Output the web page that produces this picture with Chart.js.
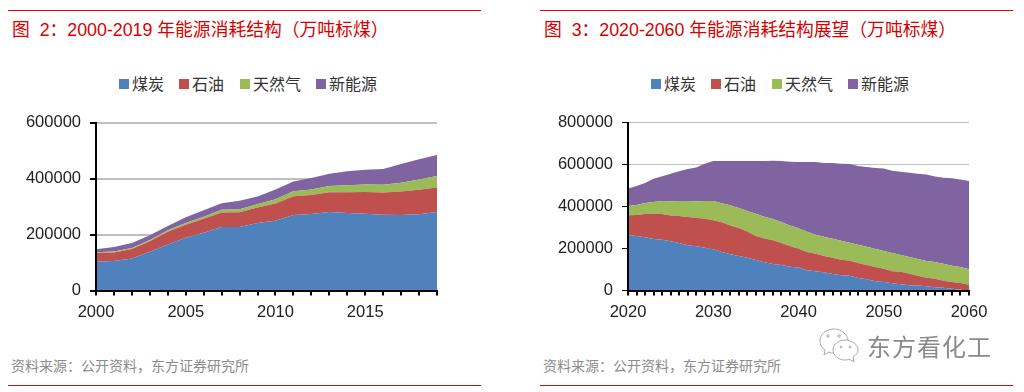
<!DOCTYPE html>
<html>
<head>
<meta charset="utf-8">
<script src="https://cdn.jsdelivr.net/npm/chart.js@4"></script>
<style>
  html, body { margin: 0; padding: 0; background: #fff; }
  body { position: relative; width: 1024px; height: 392px; overflow: hidden; font-family: "Liberation Sans", "Noto Sans CJK SC", sans-serif; }
  canvas { position: absolute; top: 100px; }
  .rule { position: absolute; height: 1px; width: 473px; }
  .top { top: 10px; background: #e00000; }
  .bottom { top: 385px; background: #b81414; }
  .title { position: absolute; top: 19px; font-size: 17.8px; line-height: 22px; color: #d80000; white-space: pre; }
  .source { position: absolute; top: 356px; font-size: 14px; line-height: 18px; color: #8c8c8c; font-family: "Noto Sans CJK SC", sans-serif; white-space: nowrap; }
  .legend { position: absolute; top: 72px; height: 22px; font-size: 16px; line-height: 22px; color: #333; font-family: "Noto Sans CJK SC", sans-serif; white-space: nowrap; }
  .legend span { position: absolute; top: 0; }
  .legend i { position: absolute; top: 7px; width: 10px; height: 10px; }
  .mark { position: absolute; left: 867px; top: 329px; font-size: 24px; line-height: 34px; letter-spacing: 1px; color: #8a8a8a; font-family: "Noto Sans CJK SC", sans-serif; white-space: nowrap; }
  svg { position: absolute; left: 818px; top: 327px; }
</style>
</head>
<body>
<div class="rule top" style="left:8px"></div>
<div class="rule top" style="left:540px"></div>
<div class="title" style="left:12px">图  2：2000-2019 年能源消耗结构（万吨标煤）</div>
<div class="title" style="left:544px">图  3：2020-2060 年能源消耗结构展望（万吨标煤）</div>

<canvas id="history" width="512" height="230" style="left:0"></canvas>
<canvas id="outlook" width="512" height="230" style="left:512px"></canvas>
<div class="legend" id="historyLegend" style="left:119px"></div>
<div class="legend" id="outlookLegend" style="left:651px"></div>

<div class="source" style="left:11px">资料来源：公开资料，东方证券研究所</div>
<div class="source" style="left:543px">资料来源：公开资料，东方证券研究所</div>
<div class="rule bottom" style="left:8px"></div>
<div class="rule bottom" style="left:540px"></div>

<svg width="42" height="38" viewBox="0 0 42 38" fill="#fff" stroke="#aaa" stroke-width="1">
  <path d="M16 2C8 2 2 7 2 14c0 4 2 7 5 9l-1 5 5-3c2 1 4 1 5 1 9 0 14-6 14-12S24 2 16 2z"/>
  <path d="M27 13c-7 0-12 5-12 10s5 10 12 10c1 0 3 0 4-1l5 3-1-5c3-2 5-4 5-7 0-5-6-10-13-10z"/>
  <circle cx="10" cy="9" r="1.2"/><circle cx="21" cy="9" r="1.2"/>
  <circle cx="23" cy="20" r="1"/><circle cx="32" cy="20" r="1"/>
</svg>
<div class="mark">东方看化工</div>

<script>
const seriesNames = ["煤炭", "石油", "天然气", "新能源"];
const seriesColors = ["#4f81bd", "#c0504d", "#9bbb59", "#8064a2"];

// 图 2, 2000-2019
const historyYears = [2000, 2001, 2002, 2003, 2004, 2005, 2006, 2007, 2008, 2009, 2010, 2011, 2012, 2013, 2014, 2015, 2016, 2017, 2018, 2019];
const historyTicks = [2000, 2005, 2010, 2015];
const historyCoal = [102600, 105000, 114500, 138000, 164600, 188500, 206000, 226700, 226700, 241000, 249000, 270000, 273000, 280000, 277000, 274000, 270800, 270000, 272000, 280000];
const historyOil = [31000, 31000, 33500, 38000, 45000, 46500, 50000, 52000, 53000, 55000, 62000, 67000, 68000, 71000, 74000, 78000, 79000, 84000, 88000, 88000];
const historyGas = [3000, 3000, 3500, 4500, 5500, 6500, 7500, 9500, 10800, 12000, 14500, 17800, 19300, 22000, 25000, 26500, 27900, 31000, 36000, 41000];
const historyNew = [10400, 16500, 18000, 16600, 15200, 19900, 23000, 23200, 30100, 28100, 35100, 34200, 41800, 43900, 49800, 52500, 56300, 67000, 73000, 75000];

// 图 3, 2020-2060
const outlookYears = [2020, 2021, 2022, 2023, 2024, 2025, 2026, 2027, 2028, 2029, 2030, 2031, 2032, 2033, 2034, 2035, 2036, 2037, 2038, 2039, 2040, 2041, 2042, 2043, 2044, 2045, 2046, 2047, 2048, 2049, 2050, 2051, 2052, 2053, 2054, 2055, 2056, 2057, 2058, 2059, 2060];
const outlookTicks = [2020, 2030, 2040, 2050, 2060];
const outlookCoal = [264000, 259000, 254000, 245000, 242000, 235000, 226000, 216000, 211000, 203500, 197000, 183000, 173000, 164000, 156000, 145000, 135000, 126000, 121000, 113000, 110000, 97000, 92000, 87500, 78000, 73000, 70000, 59000, 54000, 44500, 40000, 35000, 30000, 25500, 24000, 20500, 16000, 13000, 8000, 3000, 0];
const outlookOil = [94000, 100000, 110000, 119000, 122000, 122000, 129000, 134000, 135000, 138000, 138000, 141500, 137000, 133500, 125500, 114500, 113000, 113000, 105000, 98500, 89000, 86000, 82500, 76500, 78000, 73000, 71500, 71500, 67000, 67000, 63500, 57000, 59000, 54000, 46000, 40000, 40000, 33000, 32000, 33000, 27000];
const outlookGas = [44500, 47700, 52500, 57000, 62000, 68400, 71500, 76300, 79500, 84300, 90600, 90600, 95400, 95400, 97000, 106500, 103000, 102000, 100000, 98600, 97000, 97000, 90600, 92000, 90600, 90600, 86000, 87500, 87500, 87500, 84300, 86000, 79500, 79500, 79500, 79500, 79500, 81000, 78000, 76300, 74700];
const outlookNew = [82700, 90600, 95400, 111300, 117700, 130400, 141500, 152600, 160600, 178000, 190800, 201900, 211500, 224200, 238500, 251200, 265500, 276700, 291000, 303000, 316400, 332300, 346600, 351400, 360900, 367300, 375200, 375200, 380000, 384800, 392700, 392700, 397500, 402300, 407000, 411800, 407000, 410200, 416600, 416600, 419800];

const tickFont = { family: '"Liberation Sans", sans-serif', size: 16.5 };

function drawStack(canvasId, years, tickYears, series, yMax, geometry) {
  return new Chart(document.getElementById(canvasId), {
    type: "line",
    data: {
      labels: years,
      datasets: series.map((values, i) => ({
        label: seriesNames[i],
        data: values,
        backgroundColor: seriesColors[i],
        borderWidth: 0,
        pointRadius: 0,
        fill: i === 0 ? "origin" : "-1"
      }))
    },
    options: {
      responsive: false,
      animation: false,
      layout: { padding: { left: 0, top: 22.5, right: geometry.right, bottom: 0 } },
      plugins: { legend: { display: false }, tooltip: { enabled: false } },
      scales: {
        x: {
          stacked: true,
          afterFit: scale => { scale.height = 39.5; },
          grid: { drawOnChartArea: false, color: "#000", tickLength: 5, lineWidth: geometry.tickWidth },
          border: { color: "#000", width: 2, z: 2 },
          ticks: {
            autoSkip: false,
            maxRotation: 0,
            color: "#222",
            font: tickFont,
            padding: 7,
            callback: function (value) {
              const year = this.getLabelForValue(value);
              return tickYears.includes(year) ? String(year) : "";
            }
          }
        },
        y: {
          stacked: true,
          min: 0,
          max: yMax,
          afterFit: scale => { scale.width = geometry.left; },
          grid: { color: "#bfbfbf", tickColor: "#000", tickLength: 6, lineWidth: geometry.gridWidth },
          border: { color: "#000", width: 2, z: 2 },
          ticks: { stepSize: 200000, color: "#222", font: tickFont, padding: 9, callback: value => String(value) }
        }
      }
    }
  });
}

function drawLegend(elementId) {
  const itemLeft = [0, 60, 121, 197];
  const textLeft = [13, 73, 134, 210];
  const legend = document.getElementById(elementId);
  seriesNames.forEach((name, i) => {
    const box = document.createElement("i");
    box.style.left = itemLeft[i] + "px";
    box.style.background = seriesColors[i];
    const label = document.createElement("span");
    label.style.left = textLeft[i] + "px";
    label.textContent = name;
    legend.append(box, label);
  });
}

drawStack("history", historyYears, historyTicks, [historyCoal, historyOil, historyGas, historyNew], 600000, { left: 96, right: 75, gridWidth: 2, tickWidth: 2 });
drawStack("outlook", outlookYears, outlookTicks, [outlookCoal, outlookOil, outlookGas, outlookNew], 800000, { left: 116, right: 55, gridWidth: 1, tickWidth: 2 });
drawLegend("historyLegend");
drawLegend("outlookLegend");
</script>
</body>
</html>
